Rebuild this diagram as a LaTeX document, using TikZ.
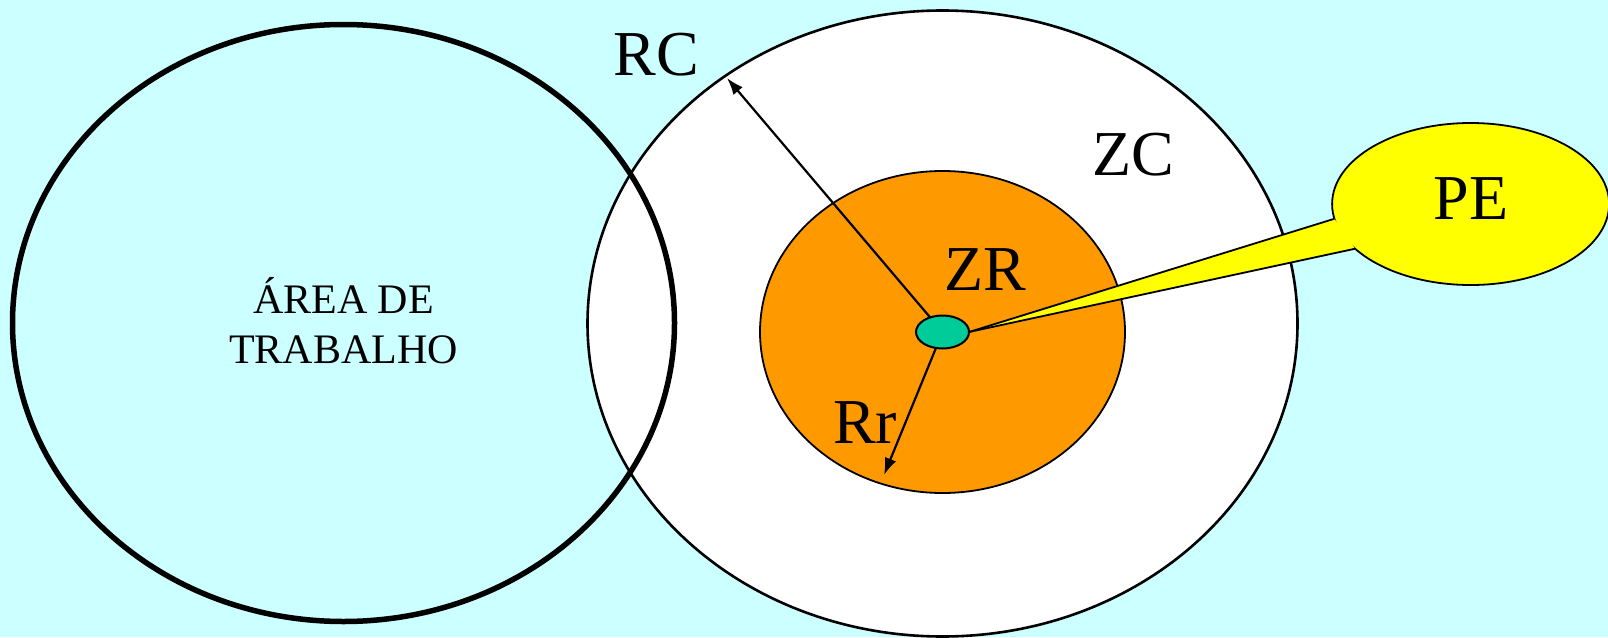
\documentclass[tikz,border=0pt]{standalone}
\usepackage{fontspec}
\setmainfont{Liberation Serif}
\usetikzlibrary{shapes.geometric,arrows.meta,calc}
\definecolor{bgcyan}{HTML}{CCFFFF}
\definecolor{zrorange}{HTML}{FF9900}
\definecolor{pegreen}{HTML}{00CC99}
\definecolor{peyellow}{HTML}{FFFF00}
\begin{document}
\begin{tikzpicture}[x=1pt,y=-1pt,
  zone/.style={ellipse, draw=black, inner sep=0pt, outer sep=0pt},
  lbl/.style={anchor=base, inner sep=0pt, font=\fontsize{64}{70}\selectfont},
  small/.style={anchor=base, inner sep=0pt, font=\fontsize{42}{50}\selectfont},
  radius arrow/.style={line width=2.2pt, -{Latex[length=17pt,width=12pt]}}]
\fill[bgcyan] (0,0) rectangle (1608,637);
\useasboundingbox (0,0) rectangle (1608,637);
% zones
\node[zone, fill=white, line width=2.6pt, minimum width=710pt, minimum height=626pt] (zc) at (942.5,323.5) {};
\node[zone, line width=5.5pt, minimum width=662pt, minimum height=597pt] (area) at (343.5,323) {};
\node[zone, fill=zrorange, line width=1.8pt, minimum width=365pt, minimum height=322pt] (zr) at (942.5,332) {};
% source point
\node[zone, fill=pegreen, line width=2pt, minimum width=53pt, minimum height=33pt] (gr) at (942.5,332) {};
% radii
\coordinate (rcend) at (727,78);
\coordinate (rrend) at (884,475);
\draw[radius arrow] (gr) -- (rcend);
\draw[radius arrow] (gr) -- (rrend);
% callout PE
\node[zone, fill=peyellow, line width=1.8pt, minimum width=277pt, minimum height=162pt] (pe) at (1470.6,204) {};
\coordinate (t1) at ($(pe.center)+(169.5:138.5 and 81)$);
\coordinate (t2) at ($(pe.center)+(146.5:138.5 and 81)$);
\fill[peyellow] (gr.east) -- (t1) -- (t2) -- cycle;
\draw[line width=1.8pt] (gr.east) -- (t1);
\draw[line width=1.8pt] (gr.east) -- (t2);
% labels
\node[lbl] (rc) at (656,75) {RC};
\node[lbl] (zclbl) at (1133,175) {ZC};
\node[lbl] (zrlbl) at (985,290) {ZR};
\node[lbl] (rrlbl) at (865,443) {Rr};
\node[lbl] (pelbl) at (1471,219) {PE};
\node[small] (area1) at (343.5,313) {ÁREA DE};
\node[small] (area2) at (343.5,363.6) {TRABALHO};
\end{tikzpicture}
\end{document}
